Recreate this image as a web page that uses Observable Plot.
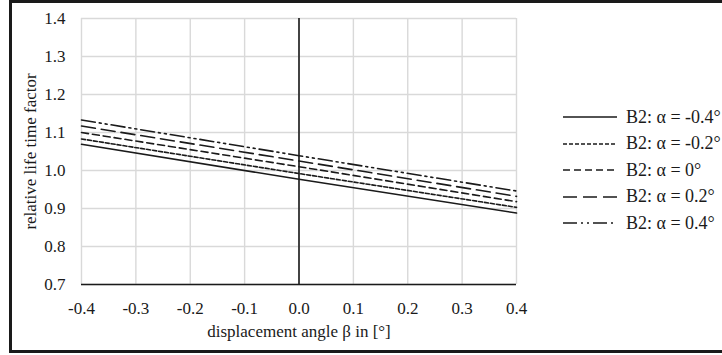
<!DOCTYPE html>
<html>
<head>
<meta charset="utf-8">
<script src="https://cdn.jsdelivr.net/npm/d3@7"></script>
<script src="https://cdn.jsdelivr.net/npm/@observablehq/plot@0.6"></script>
<style>
  html, body { margin: 0; padding: 0; background: #fff; }
  #wrap { position: relative; width: 722px; height: 355px; overflow: hidden; background: #fff; }
  #frame { position: absolute; left: 9px; top: 0px; width: 800px; height: 353px; box-sizing: border-box; border: 3px solid #1a1a1a; }
  #chart { position: absolute; left: 0; top: 0; }
  #legend { position: absolute; left: 0; top: 0; width: 722px; height: 355px; font-family: "Liberation Serif", serif; font-size: 18px; color: #1a1a1a; }
  .row { position: absolute; left: 563px; height: 20px; display: flex; align-items: center; white-space: nowrap; }
  .row svg { display: block; margin-right: 9px; }
</style>
</head>
<body>
<div id="wrap">
  <div id="frame"></div>
  <div id="chart"></div>
  <div id="legend"></div>
</div>
<script>
// ---- data ----
const beta = [-0.4, 0, 0.4];
const seriesLabels = ["B2: α = -0.4°", "B2: α = -0.2°", "B2: α = 0°", "B2: α = 0.2°", "B2: α = 0.4°"];
const alphaM04 = [1.069, 0.977, 0.888];
const alphaM02 = [1.083, 0.992, 0.903];
const alpha00  = [1.100, 1.010, 0.918];
const alphaP02 = [1.117, 1.025, 0.932];
const alphaP04 = [1.133, 1.039, 0.946];
const xTicks = [-0.4, -0.3, -0.2, -0.1, 0, 0.1, 0.2, 0.3, 0.4];
const yTicks = [0.7, 0.8, 0.9, 1.0, 1.1, 1.2, 1.3, 1.4];
const xTitle = "displacement angle β in [°]";
const yTitle = "relative life time factor";

// ---- styles per series ----
const dashes = [null, "4,2", "7,4", "14,6", "14,4,2,4,2,4"];
const allValues = [alphaM04, alphaM02, alpha00, alphaP02, alphaP04];

const rows = [];
allValues.forEach((vals, i) => {
  beta.forEach((b, j) => rows.push({series: seriesLabels[i], beta: b, value: vals[j], idx: i}));
});

const ink = "#1a1a1a";
const lineMarks = seriesLabels.map((s, i) =>
  Plot.line(rows.filter(r => r.idx === i), {
    x: "beta", y: "value", stroke: ink, strokeWidth: 1.6,
    strokeDasharray: dashes[i] || undefined
  })
);

const chart = Plot.plot({
  width: 722,
  height: 355,
  marginLeft: 81,
  marginRight: 206,
  marginTop: 18,
  marginBottom: 71,
  style: { fontFamily: "Liberation Serif, serif", fontSize: "17px", color: ink, background: "transparent", overflow: "visible" },
  x: { domain: [-0.4, 0.4] },
  y: { domain: [0.7, 1.4] },
  marks: [
    Plot.gridX(xTicks, { stroke: "#d9d9d9", strokeOpacity: 1, strokeWidth: 1.4 }),
    Plot.gridY(yTicks, { stroke: "#d9d9d9", strokeOpacity: 1, strokeWidth: 1.4 }),
    Plot.ruleY([0.7], { stroke: ink, strokeWidth: 1.6 }),
    Plot.ruleX([0], { stroke: ink, strokeWidth: 1.6 }),
    Plot.axisX(xTicks, { tickSize: 0, tickPadding: 17, tickFormat: d => d.toFixed(1), label: null, fill: ink, fontSize: 17 }),
    Plot.axisY(yTicks, { tickSize: 0, tickPadding: 16, tickFormat: d => d.toFixed(1), label: null, fill: ink, fontSize: 17 }),
    ...lineMarks,
    Plot.text([xTitle], { frameAnchor: "bottom", dy: 47, lineAnchor: "middle", textAnchor: "middle", fill: ink, fontSize: 17 }),
    Plot.text([yTitle], { frameAnchor: "left", dx: -51, rotate: -90, lineAnchor: "middle", textAnchor: "middle", fill: ink, fontSize: 17 })
  ]
});
document.getElementById("chart").appendChild(chart);

// ---- legend ----
const legend = document.getElementById("legend");
const rowY = [117, 143.5, 170, 196.5, 223];
seriesLabels.forEach((lab, i) => {
  const row = document.createElement("div");
  row.className = "row";
  row.style.top = (rowY[i] - 10) + "px";
  const svg = d3.create("svg").attr("width", 54).attr("height", 6);
  svg.append("line").attr("x1", 0).attr("x2", 54).attr("y1", 3).attr("y2", 3)
    .attr("stroke", ink).attr("stroke-width", 1.6)
    .attr("stroke-dasharray", dashes[i] || null);
  row.appendChild(svg.node());
  const t = document.createElement("span");
  t.textContent = lab;
  row.appendChild(t);
  legend.appendChild(row);
});
</script>
</body>
</html>
